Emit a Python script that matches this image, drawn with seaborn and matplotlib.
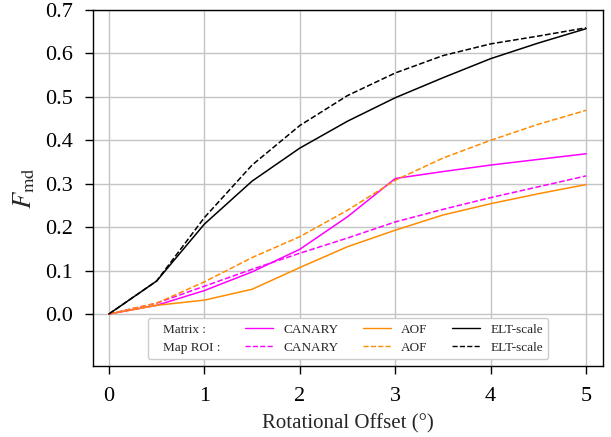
import numpy as np
import pandas as pd
import matplotlib
matplotlib.use("Agg")
import matplotlib.pyplot as plt
import seaborn as sns
from matplotlib.lines import Line2D

offsets = [0, 0.5, 1, 1.5, 2, 2.5, 3, 3.5, 4, 4.5, 5]
canary_matrix = [0, 0.020, 0.054, 0.097, 0.149, 0.224, 0.312, 0.328, 0.343, 0.356, 0.369]
canary_roi = [0, 0.025, 0.064, 0.103, 0.140, 0.175, 0.212, 0.241, 0.268, 0.293, 0.318]
aof_matrix = [0, 0.020, 0.032, 0.057, 0.107, 0.155, 0.193, 0.228, 0.254, 0.277, 0.298]
aof_roi = [0, 0.025, 0.074, 0.130, 0.178, 0.239, 0.308, 0.359, 0.400, 0.437, 0.469]
elt_matrix = [0, 0.076, 0.207, 0.306, 0.382, 0.444, 0.498, 0.544, 0.588, 0.624, 0.657]
elt_roi = [0, 0.076, 0.222, 0.343, 0.434, 0.503, 0.555, 0.595, 0.622, 0.640, 0.659]
xticks = [0, 1, 2, 3, 4, 5]
yticks = [0.0, 0.1, 0.2, 0.3, 0.4, 0.5, 0.6, 0.7]

sns.set_theme(style="ticks")
plt.rcParams['font.family'] = ['Liberation Serif', 'DejaVu Serif']
plt.rcParams['mathtext.fontset'] = 'stix'

fig = plt.figure(figsize=(6.11, 4.37), dpi=100)
ax = fig.add_subplot(111)
fig.subplots_adjust(left=92.7/611, right=603.3/611, bottom=1-365.7/437, top=1-10/437)

MAG = '#ff00ff'
ORA = '#ff8c00'
series = [
    (canary_matrix, MAG, '-'),
    (aof_matrix, ORA, '-'),
    (elt_matrix, 'black', '-'),
    (canary_roi, MAG, '--'),
    (aof_roi, ORA, '--'),
    (elt_roi, 'black', '--'),
]
for vals, col, ls in series:
    sns.lineplot(x=offsets, y=vals, ax=ax, color=col, linestyle=ls, linewidth=1.1)

ax.set_xlim(-0.17, 5.18)
ax.set_ylim(-0.119, 0.7)
ax.set_xticks(xticks)
ax.set_xticklabels([str(t) for t in xticks])
ax.set_yticks(yticks)
ax.set_yticklabels([f"{t:.1f}" for t in yticks])
ax.tick_params(axis='both', labelsize=16, length=6, width=1.0, color='black', labelcolor='black', direction='out')
ax.tick_params(axis='x', pad=9)
ax.tick_params(axis='y', pad=8)
ax.grid(True, color='#c4c4c4', linewidth=1.0)
ax.set_axisbelow(True)
for s in ax.spines.values():
    s.set_color('black')
    s.set_linewidth(1.0)

ax.set_xlabel("Rotational Offset (°)", fontsize=15, labelpad=6)
ax.set_ylabel(r"$F_{\mathrm{md}}$", fontsize=19, labelpad=6)

blank = Line2D([], [], color='none')
handles = [blank, blank,
           Line2D([], [], color=MAG, ls='-', lw=1.0), Line2D([], [], color=MAG, ls='--', lw=1.0),
           Line2D([], [], color=ORA, ls='-', lw=1.0), Line2D([], [], color=ORA, ls='--', lw=1.0),
           Line2D([], [], color='black', ls='-', lw=1.0), Line2D([], [], color='black', ls='--', lw=1.0)]
labels = ['Matrix :', 'Map ROI :', 'CANARY', 'CANARY', 'AOF', 'AOF', 'ELT-scale', 'ELT-scale']
leg = ax.legend(handles, labels, ncol=4, loc='lower center', fontsize=9.5,
                handlelength=2.1, labelspacing=0.45, columnspacing=1.85,
                framealpha=1.0, edgecolor='#cccccc')
cols = leg._legend_handle_box.get_children()
for row in cols[0].get_children():
    row.get_children()[0].width = 0

fig.savefig("out.png", dpi=100)
